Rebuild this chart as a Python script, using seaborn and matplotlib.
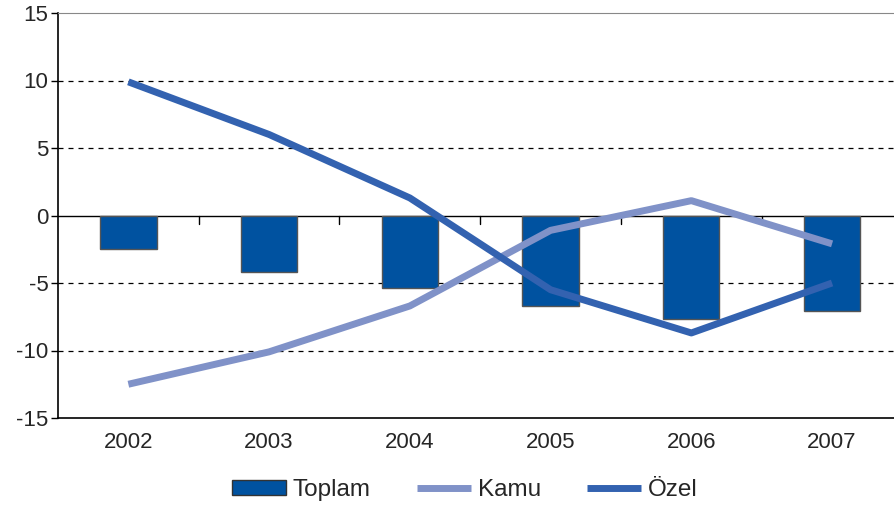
import numpy as np
import pandas as pd
import seaborn as sns
import matplotlib
matplotlib.use("Agg")
import matplotlib.pyplot as plt
from matplotlib.patches import Patch
from matplotlib.lines import Line2D

# data
years = ["2002", "2003", "2004", "2005", "2006", "2007"]
toplam = [-2.5, -4.2, -5.4, -6.7, -7.7, -7.1]
kamu = [-12.5, -10.1, -6.7, -1.1, 1.1, -2.1]
ozel = [9.9, 6.0, 1.3, -5.5, -8.7, -5.0]

bar_color = "#0052A0"
kamu_color = "#8092C8"
ozel_color = "#3362B0"

sns.set_style("white")
plt.rcParams["font.family"] = ["Liberation Sans", "DejaVu Sans"]
plt.rcParams["axes.unicode_minus"] = False

df = pd.DataFrame({"year": years, "Toplam": toplam})

fig = plt.figure(figsize=(8.94, 5.05), dpi=100)
ax = fig.add_axes([58 / 894, 87 / 505, 836 / 894, 405 / 505])

sns.barplot(data=df, x="year", y="Toplam", color=bar_color, width=0.4,
            edgecolor="#555555", linewidth=1, saturation=1, ax=ax, zorder=3)
pos = np.arange(len(years))
ax.plot(pos, kamu, color=kamu_color, lw=5, zorder=4, solid_capstyle="butt")
ax.plot(pos, ozel, color=ozel_color, lw=5, zorder=5, solid_capstyle="butt")

ax.set_ylim(-15, 15)
ax.set_xlim(-0.5, 5.44)
ax.set_yticks(range(-15, 16, 5))
for v in [10, 5, -5, -10]:
    ax.axhline(v, color="black", lw=0.9, ls=(0, (4, 4)), zorder=1)
ax.axhline(0, color="black", lw=1, zorder=2)
# small separator ticks on the zero line
for b in np.arange(0.5, 5.5, 1.0):
    ax.plot([b, b], [0, -0.6], color="black", lw=1, zorder=2)

ax.set_xlabel("")
ax.set_ylabel("")
ax.tick_params(axis="y", length=5, width=1, color="black", labelsize=16, pad=2, left=True)
ax.tick_params(axis="x", length=0, labelsize=16, pad=10)

for s in ["left", "bottom"]:
    ax.spines[s].set_color("black")
    ax.spines[s].set_linewidth(1.2)
ax.spines["top"].set_color("#888888")
ax.spines["right"].set_visible(False)

handles = [Patch(facecolor=bar_color, edgecolor="#333333", linewidth=1),
           Line2D([], [], color=kamu_color, lw=5, solid_capstyle="butt"),
           Line2D([], [], color=ozel_color, lw=5, solid_capstyle="butt")]
fig.legend(handles, ["Toplam", "Kamu", "Özel"], loc="center", bbox_to_anchor=(0.52, 15 / 505),
           ncol=3, frameon=False, fontsize=17.5, handlelength=2.2, handleheight=0.55,
           columnspacing=1.9, handletextpad=0.3)

fig.savefig("out.png", dpi=100)
